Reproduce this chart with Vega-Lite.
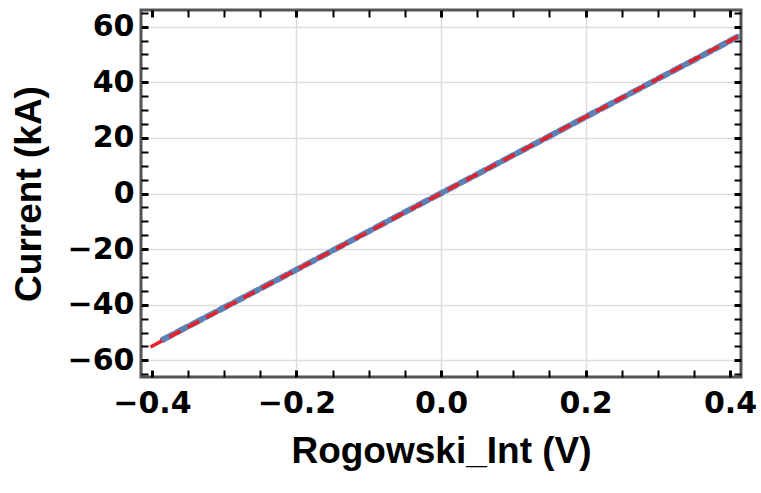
{
  "$schema": "https://vega.github.io/schema/vega-lite/v6.json",
  "autosize": {"type": "none"},
  "width": 600,
  "height": 367,
  "padding": {"left": 141, "top": 10, "right": 20, "bottom": 116},
  "background": "white",
  "config": {
    "view": {"stroke": "#555555", "strokeWidth": 3},
    "axis": {
      "labelFont": "DejaVu Sans",
      "labelFontWeight": "bold",
      "labelFontSize": 30,
      "labelColor": "black",
      "titleFont": "Liberation Sans",
      "titleFontWeight": "bold",
      "titleFontSize": 37,
      "titleColor": "black",
      "domain": false,
      "tickColor": "black",
      "labelOverlap": false,
      "labelFlush": false,
      "labelBound": false
    }
  },
  "layer": [
    {
      "data": {"values": [
        {"v": -0.385, "i": -52.6}, {"v": -0.35, "i": -47.8}, {"v": -0.3, "i": -41.0},
        {"v": -0.25, "i": -34.2}, {"v": -0.2, "i": -27.4}, {"v": -0.15, "i": -20.5},
        {"v": -0.1, "i": -13.6}, {"v": -0.05, "i": -6.7}, {"v": 0.0, "i": 0.1},
        {"v": 0.05, "i": 6.9}, {"v": 0.1, "i": 13.8}, {"v": 0.15, "i": 20.6},
        {"v": 0.2, "i": 27.5}, {"v": 0.25, "i": 34.3}, {"v": 0.3, "i": 41.2},
        {"v": 0.35, "i": 48.0}, {"v": 0.41, "i": 56.3}
      ]},
      "mark": {"type": "line", "color": "#5E81B5", "strokeWidth": 6, "strokeDash": [12, 4], "strokeCap": "round", "clip": true},
      "encoding": {
        "x": {
          "field": "v", "type": "quantitative",
          "scale": {"domain": [-0.4152, 0.4152], "nice": false, "zero": false},
          "axis": {
            "orient": "bottom",
            "title": "Rogowski_Int (V)",
            "values": [-0.4, -0.35, -0.3, -0.25, -0.2, -0.15, -0.1, -0.05, 0, 0.05, 0.1, 0.15, 0.2, 0.25, 0.3, 0.35, 0.4],
            "tickSize": -7,
            "tickWidth": {"condition": {"test": "abs(datum.value/0.2 - round(datum.value/0.2)) < 0.01", "value": 3}, "value": 2},
            "labelExpr": "abs(datum.value/0.2 - round(datum.value/0.2)) < 0.01 ? format(datum.value, '.1f') : ''",
            "labelPadding": 18,
            "titlePadding": 15,
            "grid": true,
            "gridColor": "#dddddd",
            "gridWidth": 1.5,
            "gridOpacity": {"condition": {"test": "abs(datum.value/0.2 - round(datum.value/0.2)) < 0.01 && abs(datum.value) < 0.3", "value": 1}, "value": 0}
          }
        },
        "y": {
          "field": "i", "type": "quantitative",
          "scale": {"domain": [-66, 66], "nice": false, "zero": false},
          "axis": {
            "orient": "left",
            "title": "Current (kA)",
            "values": [-65, -60, -55, -50, -45, -40, -35, -30, -25, -20, -15, -10, -5, 0, 5, 10, 15, 20, 25, 30, 35, 40, 45, 50, 55, 60, 65],
            "tickSize": -7,
            "tickWidth": {"condition": {"test": "abs(datum.value/20 - round(datum.value/20)) < 0.01", "value": 3}, "value": 2},
            "labelExpr": "abs(datum.value/20 - round(datum.value/20)) < 0.01 ? format(datum.value, 'd') : ''",
            "labelPadding": 14,
            "titlePadding": 19,
            "grid": true,
            "gridColor": "#dddddd",
            "gridWidth": 1.5,
            "gridOpacity": {"condition": {"test": "abs(datum.value/20 - round(datum.value/20)) < 0.01", "value": 1}, "value": 0}
          }
        }
      }
    },
    {
      "data": {"values": [
        {"v": -0.402, "i": -55.2}, {"v": 0.414, "i": 56.9}
      ]},
      "mark": {"type": "line", "color": "#E8202A", "strokeWidth": 3.5, "strokeDash": [13, 8], "clip": true},
      "encoding": {
        "x": {
          "field": "v", "type": "quantitative",
          "axis": {
            "orient": "top",
            "title": null,
            "labels": false,
            "grid": false,
            "values": [-0.4, -0.35, -0.3, -0.25, -0.2, -0.15, -0.1, -0.05, 0, 0.05, 0.1, 0.15, 0.2, 0.25, 0.3, 0.35, 0.4],
            "tickSize": -7,
            "tickWidth": {"condition": {"test": "abs(datum.value/0.2 - round(datum.value/0.2)) < 0.01", "value": 3}, "value": 2}
          }
        },
        "y": {
          "field": "i", "type": "quantitative",
          "axis": {
            "orient": "right",
            "title": null,
            "labels": false,
            "grid": false,
            "values": [-65, -60, -55, -50, -45, -40, -35, -30, -25, -20, -15, -10, -5, 0, 5, 10, 15, 20, 25, 30, 35, 40, 45, 50, 55, 60, 65],
            "tickSize": -7,
            "tickWidth": {"condition": {"test": "abs(datum.value/20 - round(datum.value/20)) < 0.01", "value": 3}, "value": 2}
          }
        }
      }
    }
  ],
  "resolve": {"axis": {"x": "independent", "y": "independent"}}
}
